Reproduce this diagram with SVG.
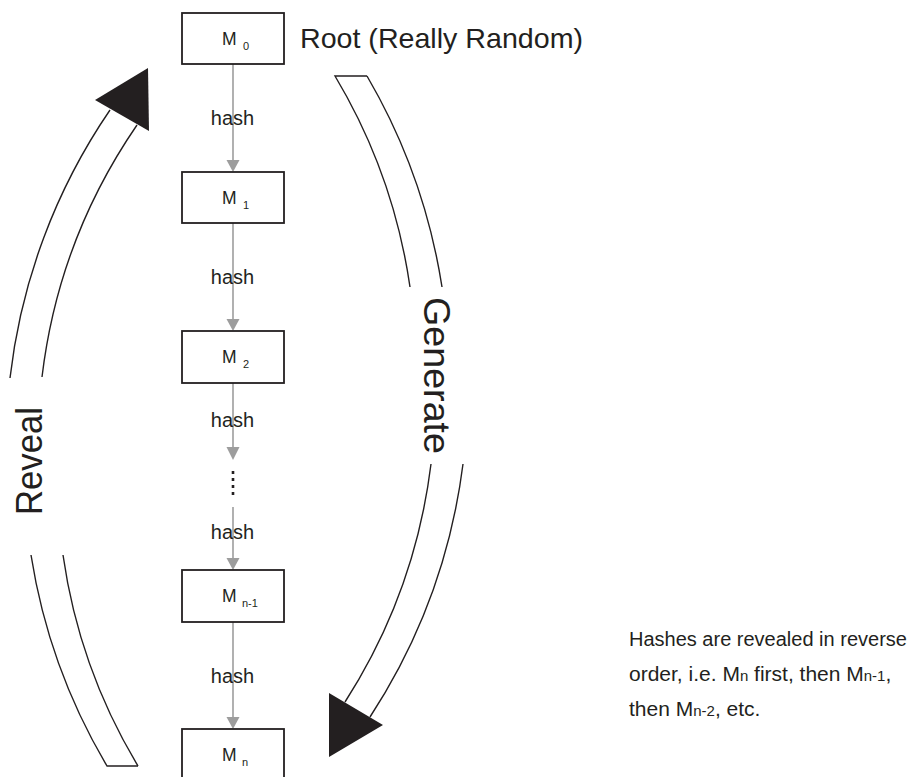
<svg xmlns="http://www.w3.org/2000/svg" width="913" height="777" viewBox="0 0 913 777">
<style>
  .box { fill: #fff; stroke: #231f20; stroke-width: 1.8; }
  .lbl { font-family: "Liberation Sans", Arial, sans-serif; fill: #231f20; }
  .m { font-size: 17.5px; }
  .sub { font-size: 11px; }
  .hash { font-family: "Liberation Sans", Arial, sans-serif; font-size: 20px; fill: #231f20; text-anchor: middle; }
  .conn { stroke: #9d9d9d; stroke-width: 1.6; fill: none; }
  .head { fill: #9d9d9d; }
  .band { fill: none; stroke: #231f20; stroke-width: 1.4; }
  .big { fill: #231f20; }
  .note { font-size: 21px; }
  .nsub { font-size: 15px; }
</style>
<rect width="913" height="777" fill="#fff"/>

<g id="connectors">
  <line class="conn" x1="233" y1="64" x2="233" y2="162"/>
  <polygon class="head" points="226.5,160 239.5,160 233,172"/>
  <line class="conn" x1="233" y1="223" x2="233" y2="321"/>
  <polygon class="head" points="226.5,319 239.5,319 233,331"/>
  <line class="conn" x1="233" y1="383" x2="233" y2="449"/>
  <polygon class="head" points="226.5,447 239.5,447 233,460"/>
  <line x1="233" y1="471" x2="233" y2="495" stroke="#231f20" stroke-width="2.6" stroke-dasharray="3 4"/>
  <line class="conn" x1="233" y1="507" x2="233" y2="560"/>
  <polygon class="head" points="226.5,558 239.5,558 233,570"/>
  <line class="conn" x1="233" y1="622" x2="233" y2="719"/>
  <polygon class="head" points="226.5,717 239.5,717 233,729"/>
  <text class="hash" x="232.5" y="125">hash</text>
  <text class="hash" x="232.5" y="284">hash</text>
  <text class="hash" x="232.5" y="427">hash</text>
  <text class="hash" x="232.5" y="539">hash</text>
  <text class="hash" x="232.5" y="683">hash</text>
</g>

<g id="m0">
  <rect class="box" x="182" y="13" width="102" height="51"/>
  <text class="lbl m" x="222" y="45">M</text>
  <text class="lbl sub" x="243" y="50">0</text>
</g>
<g id="m1">
  <rect class="box" x="182" y="172" width="102" height="51"/>
  <text class="lbl m" x="222" y="204">M</text>
  <text class="lbl sub" x="243" y="209">1</text>
</g>
<g id="m2">
  <rect class="box" x="182" y="331" width="102" height="52"/>
  <text class="lbl m" x="222" y="363">M</text>
  <text class="lbl sub" x="243" y="368">2</text>
</g>
<g id="mn1">
  <rect class="box" x="182" y="570" width="102" height="52"/>
  <text class="lbl m" x="222" y="602">M</text>
  <text class="lbl sub" x="242" y="607">n-1</text>
</g>
<g id="mn">
  <rect class="box" x="182" y="729" width="102" height="60"/>
  <text class="lbl m" x="222" y="761">M</text>
  <text class="lbl sub" x="242" y="766">n</text>
</g>

<g id="root-label">
  <text class="lbl" x="300" y="48" font-size="28.5" textLength="283" lengthAdjust="spacingAndGlyphs">Root (Really Random)</text>
</g>

<g id="reveal-arrow">
  <path class="band" d="M 10 378 A 595 595 0 0 1 110 110"/>
  <path class="band" d="M 42 377 A 563 563 0 0 1 137 125"/>
  <path class="band" d="M 31 555 A 595 595 0 0 0 107 766 L 138 766"/>
  <path class="band" d="M 63 555 A 563 563 0 0 0 138 766"/>
  <polygon class="big" points="148,68 95,100 149,131"/>
  <text class="lbl" transform="translate(42,461) rotate(-90)" font-size="36" text-anchor="middle" textLength="108" lengthAdjust="spacingAndGlyphs">Reveal</text>
</g>

<g id="generate-arrow">
  <path class="band" d="M 410 287 A 570 570 0 0 0 335 76 L 367 76"/>
  <path class="band" d="M 367 76 A 602 602 0 0 1 442 287"/>
  <path class="band" d="M 463 464 A 602 602 0 0 1 370 717"/>
  <path class="band" d="M 431 464 A 570 570 0 0 1 345 702"/>
  <polygon class="big" points="329,693 383,725 329,757"/>
  <text class="lbl" transform="translate(424,375.5) rotate(90)" font-size="36" text-anchor="middle" textLength="157" lengthAdjust="spacingAndGlyphs">Generate</text>
</g>

<g id="note">
  <text class="lbl" x="629" y="646" font-size="20">Hashes are revealed in reverse</text>
  <text class="lbl note" x="629" y="681">order, i.e. M<tspan class="nsub">n</tspan> first, then M<tspan class="nsub">n-1</tspan>,</text>
  <text class="lbl note" x="629" y="716">then M<tspan class="nsub">n-2</tspan>, etc.</text>
</g>
</svg>
